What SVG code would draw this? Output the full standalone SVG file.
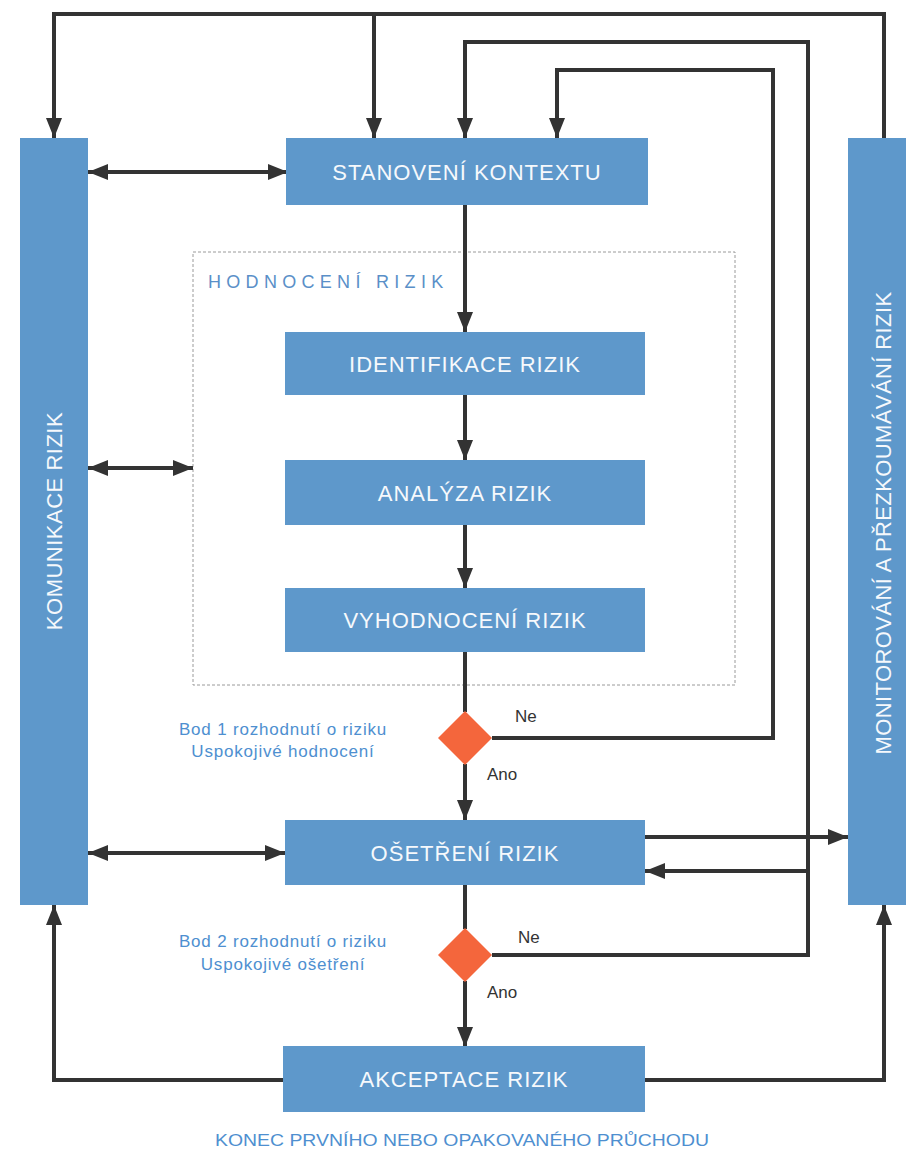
<svg xmlns="http://www.w3.org/2000/svg" width="906" height="1153" viewBox="0 0 906 1153">
<defs>
<style>
.box{fill:#5e98cb}
.bt{font-family:"Liberation Sans",Arial,sans-serif;font-size:22px;fill:#f6f9fc;text-anchor:middle;letter-spacing:1px}
.con{fill:none;stroke:#333;stroke-width:4}
.lbl{font-family:"Liberation Sans",Arial,sans-serif;font-size:17px;fill:#4e8fd0;text-anchor:middle;letter-spacing:0.8px}
.yn{font-family:"Liberation Sans",Arial,sans-serif;font-size:17px;fill:#333}
.dia{fill:#f4663c}
</style>
<marker id="ah" viewBox="0 0 20 16" refX="20" refY="8" markerWidth="20" markerHeight="16" markerUnits="userSpaceOnUse" orient="auto-start-reverse"><path d="M0,0 L20,8 L0,16 z" fill="#333"/></marker>
</defs>
<rect width="906" height="1153" fill="#ffffff"/>

<g id="hodnoceni">
<rect x="193" y="252" width="542" height="433" fill="none" stroke="#9a9a9a" stroke-width="1" stroke-dasharray="3,2"/>
<text x="208" y="288" font-family="Liberation Sans,Arial,sans-serif" font-size="18" fill="#5a8fc8" letter-spacing="5.3">HODNOCENÍ RIZIK</text>
</g>

<g id="connectors">
<path class="con" d="M884,138 V14 H54 V138" marker-end="url(#ah)"/>
<path class="con" d="M374,14 V138" marker-end="url(#ah)"/>
<path class="con" d="M492,955 H808 V42 H465 V138" marker-end="url(#ah)"/>
<path class="con" d="M492,738 H773 V70 H557 V138" marker-end="url(#ah)"/>
<path class="con" d="M465,205 V332" marker-end="url(#ah)"/>
<path class="con" d="M465,395 V460" marker-end="url(#ah)"/>
<path class="con" d="M465,525 V588" marker-end="url(#ah)"/>
<path class="con" d="M465,652 V712"/>
<path class="con" d="M465,764 V820" marker-end="url(#ah)"/>
<path class="con" d="M465,885 V929"/>
<path class="con" d="M465,981 V1047" marker-end="url(#ah)"/>
<path class="con" d="M88,172 H288" marker-start="url(#ah)" marker-end="url(#ah)"/>
<path class="con" d="M88,468 H193" marker-start="url(#ah)" marker-end="url(#ah)"/>
<path class="con" d="M88,853 H285" marker-start="url(#ah)" marker-end="url(#ah)"/>
<path class="con" d="M645,837 H848" marker-end="url(#ah)"/>
<path class="con" d="M808,871 H645" marker-end="url(#ah)"/>
<path class="con" d="M283,1080 H54 V905" marker-end="url(#ah)"/>
<path class="con" d="M645,1080 H884 V905" marker-end="url(#ah)"/>
</g>

<g id="komunikace">
<rect class="box" x="20" y="138" width="68" height="767"/>
<text class="bt" transform="translate(62,521) rotate(-90)" style="letter-spacing:0.5px">KOMUNIKACE RIZIK</text>
</g>
<g id="monitorovani">
<rect class="box" x="848" y="138" width="58" height="767"/>
<text class="bt" transform="translate(891,523) rotate(-90)" style="letter-spacing:0.4px">MONITOROVÁNÍ A PŘEZKOUMÁVÁNÍ RIZIK</text>
</g>
<g id="stanoveni">
<rect class="box" x="286" y="138" width="362" height="67"/>
<text class="bt" x="467" y="180">STANOVENÍ KONTEXTU</text>
</g>
<g id="identifikace">
<rect class="box" x="285" y="332" width="360" height="63"/>
<text class="bt" x="465" y="372">IDENTIFIKACE RIZIK</text>
</g>
<g id="analyza">
<rect class="box" x="285" y="460" width="360" height="65"/>
<text class="bt" x="465" y="501">ANALÝZA RIZIK</text>
</g>
<g id="vyhodnoceni">
<rect class="box" x="285" y="588" width="360" height="64"/>
<text class="bt" x="465" y="628">VYHODNOCENÍ RIZIK</text>
</g>
<g id="bod1">
<polygon class="dia" points="465,711 492,738 465,765 438,738"/>
<text class="lbl" x="283" y="735">Bod 1 rozhodnutí o riziku</text>
<text class="lbl" x="283" y="757">Uspokojivé hodnocení</text>
<text class="yn" x="515" y="722">Ne</text>
<text class="yn" x="487" y="780">Ano</text>
</g>
<g id="osetreni">
<rect class="box" x="285" y="820" width="360" height="65"/>
<text class="bt" x="465" y="861">OŠETŘENÍ RIZIK</text>
</g>
<g id="bod2">
<polygon class="dia" points="465,928 492,955 465,982 438,955"/>
<text class="lbl" x="283" y="947">Bod 2 rozhodnutí o riziku</text>
<text class="lbl" x="283" y="970">Uspokojivé ošetření</text>
<text class="yn" x="518" y="943">Ne</text>
<text class="yn" x="487" y="998">Ano</text>
</g>
<g id="akceptace">
<rect class="box" x="283" y="1046" width="362" height="66"/>
<text class="bt" x="464" y="1087">AKCEPTACE RIZIK</text>
</g>
<text x="462" y="1146" font-family="Liberation Sans,Arial,sans-serif" font-size="17" fill="#4e8fd0" text-anchor="middle" textLength="494" lengthAdjust="spacingAndGlyphs">KONEC PRVNÍHO NEBO OPAKOVANÉHO PRŮCHODU</text>
</svg>
